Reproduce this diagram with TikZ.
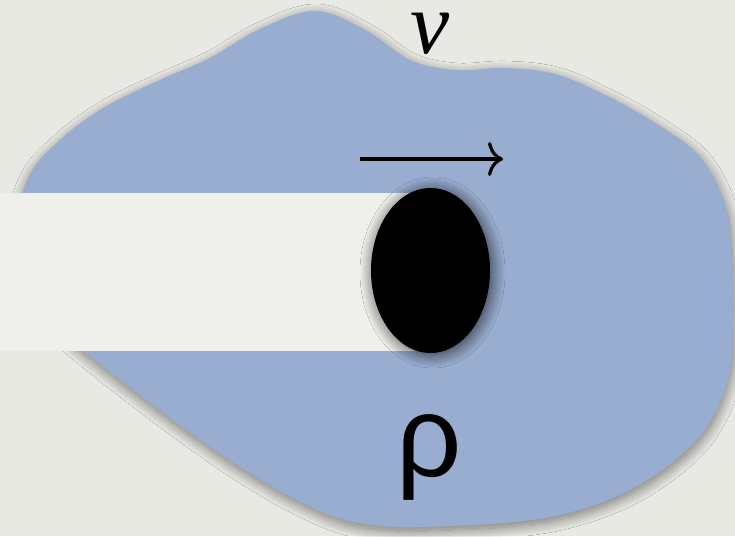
\documentclass[tikz,border=0pt]{standalone}
\usepackage{fontspec}
\setmainfont{Liberation Serif}
\newfontfamily\rhofont{Liberation Sans}
\usetikzlibrary{shadows.blur,arrows.meta,shapes.geometric}
\definecolor{bgc}{HTML}{E9E9E4}
\definecolor{blobc}{HTML}{99ADD0}
\definecolor{slabc}{HTML}{EFEFEB}
\tikzset{
  blobshape/.style={fill=blobc, blur shadow={shadow xshift=1pt, shadow yshift=-4pt, shadow blur radius=11pt, shadow opacity=50, shadow blur steps=20}},
  slabshape/.style={fill=slabc, inner sep=0pt, minimum width=432pt, minimum height=158pt, anchor=north west},
  ballshape/.style={ellipse, fill=black, inner sep=0pt, minimum width=119pt, minimum height=165pt,
     blur shadow={shadow xshift=2pt, shadow yshift=-2pt, shadow blur radius=13pt, shadow opacity=70, shadow blur steps=20}},
  lbl/.style={inner sep=0pt, text=black},
  flow/.style={line width=3.2pt, -{Computer Modern Rightarrow[length=15pt,width=34pt]}}
}
\begin{document}
\begin{tikzpicture}[x=1pt,y=-1pt]
\fill[bgc] (0,0) rectangle (735,536);
\useasboundingbox (0,0) rectangle (735,536);
\fill[blobshape] plot[smooth cycle, tension=0.6] coordinates {
 (15,240) (28,178) (60,140) (105,107) (160,80) (210,58) (260,29) (315,11) (365,30) (410,60)
 (455,70) (505,68) (555,74) (605,95) (655,123) (700,157) (725,205) (732,260) (733,320)
 (729,375) (706,428) (665,468) (615,497) (560,515) (505,523) (450,526) (395,527) (345,520)
 (295,499) (245,470) (195,436) (145,399) (100,364) (60,330) (30,290)};
\node[slabshape] (slab) at (0,193) {};
\node[ballshape] (ball) at (430.5,270.5) {};
\coordinate (a1) at (360,159);
\coordinate (a2) at (503,159);
\draw[flow] (a1) -- (a2);
\node[lbl, anchor=base, font=\fontsize{88}{88}\selectfont\itshape] (v) at (430,53) {v};
\node[lbl, font=\fontsize{115}{115}\selectfont\rhofont] (rho) at (429,457) {ρ};
\end{tikzpicture}
\end{document}
